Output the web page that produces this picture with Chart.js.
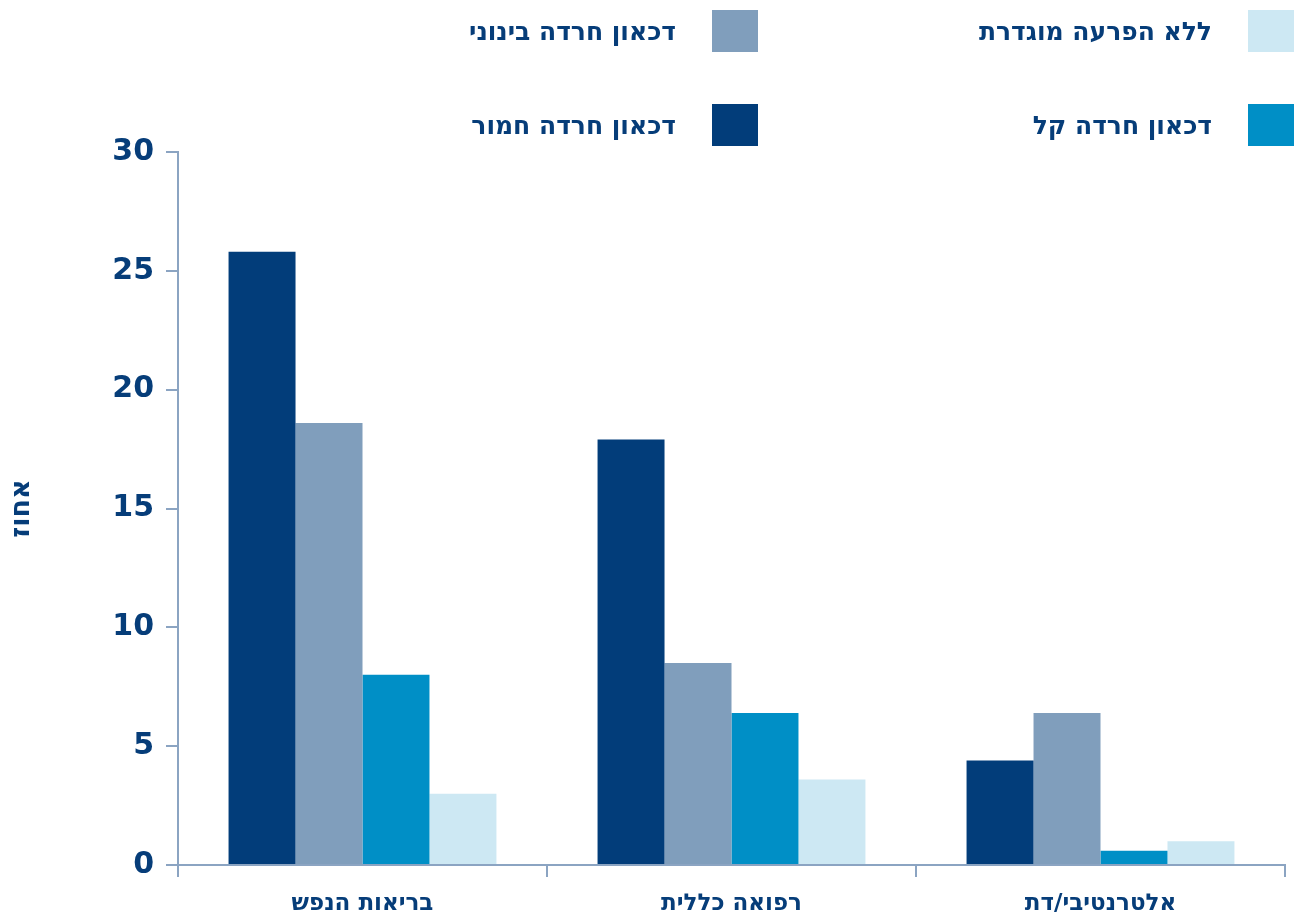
<!DOCTYPE html>
<html>
<head>
<meta charset="utf-8">
<script src="https://cdn.jsdelivr.net/npm/chart.js@4/dist/chart.umd.min.js"></script>
<style>
  body { margin: 0; background: #fff; }
  #wrap { position: relative; width: 1296px; height: 917px; }
  #legend {
    position: absolute; top: 10px; right: 2px;
    display: grid; direction: rtl;
    grid-template-rows: 42px 42px; row-gap: 52px;
    grid-auto-flow: column; grid-auto-columns: 536px;
  }
  .item { display: flex; align-items: center; direction: rtl; }
  .swatch { width: 46px; height: 42px; margin-left: 36px; }
  .label { font: bold 25px "DejaVu Sans", sans-serif; color: #063d79; white-space: nowrap; }
</style>
</head>
<body>
<div id="wrap">
  <canvas id="chart" width="1296" height="917"></canvas>
  <div id="legend"></div>
</div>
<script>
// categories on the x axis
var categories = ['בריאות הנפש', 'רפואה כללית', 'אלטרנטיבי/דת'];

// percent per group
var severe = [25.8, 17.9, 4.4];
var moderate = [18.6, 8.5, 6.4];
var mild = [8.0, 6.4, 0.6];
var noDisorder = [3.0, 3.6, 1.0];

var seriesNames = ['דכאון חרדה חמור', 'דכאון חרדה בינוני', 'דכאון חרדה קל', 'ללא הפרעה מוגדרת'];
var yTicks = [0, 5, 10, 15, 20, 25, 30];

var NAVY = '#063d79';
var AXIS = '#8ba4c2';
var FONT = '"DejaVu Sans", sans-serif';
var colors = ['#023d7a', '#809ebc', '#008fc6', '#cde8f3'];

function make_datasets() {
  var values = [severe, moderate, mild, noDisorder];
  var sets = [];
  for (let i = 0; i < values.length; i++) {
    sets.push({
      label: seriesNames[i],
      data: values[i],
      backgroundColor: colors[i],
      borderWidth: 0,
      barPercentage: 1,
      categoryPercentage: 0.726
    });
  }
  return sets;
}

// legend goes column by column, right to left
function build_legend(chart) {
  var box = document.getElementById('legend');
  var sets = chart.data.datasets.slice().reverse();
  sets.forEach(function (ds) {
    var item = document.createElement('div');
    item.className = 'item';
    var sw = document.createElement('div');
    sw.className = 'swatch';
    sw.style.background = ds.backgroundColor;
    var txt = document.createElement('div');
    txt.className = 'label';
    txt.innerText = ds.label;
    item.appendChild(sw);
    item.appendChild(txt);
    box.appendChild(item);
  });
}

var ctx = document.getElementById('chart').getContext('2d');
var myChart = new Chart(ctx, {
  type: 'bar',
  data: {
    labels: categories,
    datasets: make_datasets()
  },
  options: {
    responsive: false,
    animation: false,
    layout: { padding: { top: 152, right: 11, left: 0, bottom: 0 } },
    plugins: {
      legend: { display: false },
      tooltip: { enabled: false }
    },
    scales: {
      x: {
        afterFit: function (scale) { scale.height = 52; },
        grid: {
          offset: true,
          drawOnChartArea: false,
          drawTicks: true,
          tickLength: 12,
          color: AXIS,
          lineWidth: 2
        },
        border: { display: true, color: AXIS, width: 2 },
        ticks: {
          padding: 13,
          color: NAVY,
          font: { family: FONT, size: 23, weight: 'bold' }
        }
      },
      y: {
        min: 0,
        max: 30,
        afterFit: function (scale) { scale.width = 178; },
        afterBuildTicks: function (scale) {
          scale.ticks = yTicks.map(function (v) { return { value: v }; });
        },
        grid: {
          drawOnChartArea: false,
          drawTicks: true,
          tickLength: 12,
          color: AXIS,
          lineWidth: 2
        },
        border: { display: true, color: AXIS, width: 2 },
        ticks: {
          padding: 12,
          color: NAVY,
          font: { family: FONT, size: 30, weight: 'bold' }
        },
        title: {
          display: true,
          text: 'אחוז',
          color: NAVY,
          padding: { top: 6, bottom: 0 },
          font: { family: FONT, size: 27, weight: 'bold' }
        }
      }
    }
  }
});

build_legend(myChart);
</script>
</body>
</html>
